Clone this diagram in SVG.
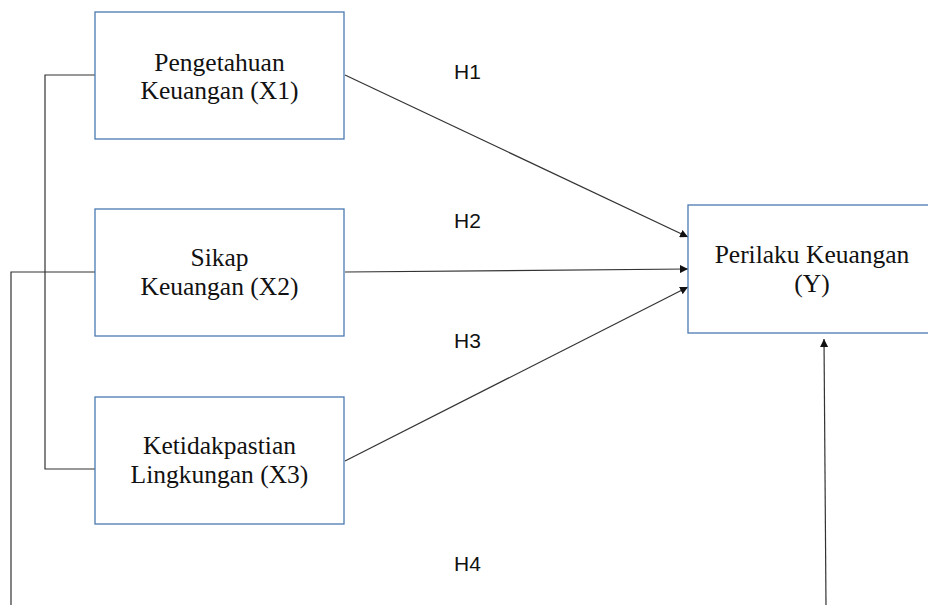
<svg xmlns="http://www.w3.org/2000/svg" width="928" height="605" viewBox="0 0 928 605">
<style>
.box{fill:#fff;stroke:#4a7ab0;stroke-width:1.3}
.lbl{font-family:"Liberation Serif","Times New Roman",serif;font-size:25.5px;fill:#111;text-anchor:middle}
.h{font-family:"Liberation Sans",Arial,sans-serif;font-size:21px;fill:#111}
.ln{fill:none;stroke:#333;stroke-width:1.2}
</style>
<defs>
<marker id="ah" viewBox="0 0 10 10" refX="10" refY="5" markerWidth="8" markerHeight="8" markerUnits="userSpaceOnUse" orient="auto">
<path d="M0,0 L10,5 L0,10 Z" fill="#111"/>
</marker>
</defs>
<rect width="928" height="605" fill="#fff"/>
<g id="connectors">
<polyline class="ln" points="95,75 45,75 45,469 95,469"/>
<polyline class="ln" points="95,272 11,272 11,605"/>
<line class="ln" x1="345" y1="75" x2="688" y2="237" marker-end="url(#ah)"/>
<line class="ln" x1="345" y1="272" x2="688" y2="269" marker-end="url(#ah)"/>
<line class="ln" x1="345" y1="461" x2="688" y2="287" marker-end="url(#ah)"/>
<line class="ln" x1="826" y1="605" x2="824" y2="339" marker-end="url(#ah)"/>
</g>
<g id="x1">
<rect class="box" x="95" y="12" width="249" height="127"/>
<text class="lbl" x="219.5" y="71">Pengetahuan</text>
<text class="lbl" x="219.5" y="99">Keuangan (X1)</text>
</g>
<g id="x2">
<rect class="box" x="95" y="209" width="249" height="127"/>
<text class="lbl" x="219.5" y="266">Sikap</text>
<text class="lbl" x="219.5" y="295">Keuangan (X2)</text>
</g>
<g id="x3">
<rect class="box" x="95" y="397" width="249" height="127"/>
<text class="lbl" x="219.5" y="454">Ketidakpastian</text>
<text class="lbl" x="219.5" y="483">Lingkungan (X3)</text>
</g>
<g id="y">
<rect class="box" x="688" y="205" width="249" height="128"/>
<text class="lbl" x="812" y="263">Perilaku Keuangan</text>
<text class="lbl" x="812" y="292">(Y)</text>
</g>
<g id="labels">
<text class="h" x="454" y="79">H1</text>
<text class="h" x="454" y="228">H2</text>
<text class="h" x="454" y="348">H3</text>
<text class="h" x="454" y="571">H4</text>
</g>
</svg>
